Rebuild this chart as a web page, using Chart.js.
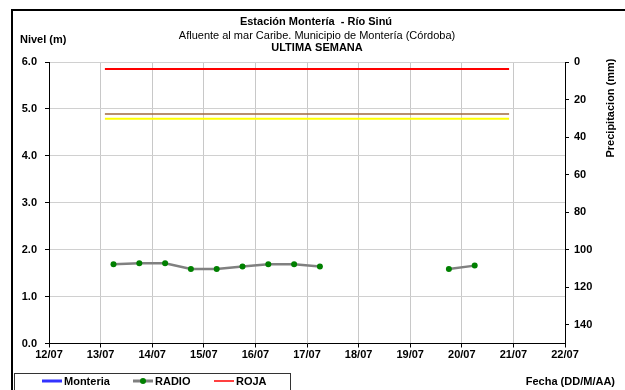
<!DOCTYPE html>
<html>
<head>
<meta charset="utf-8">
<script src="https://cdn.jsdelivr.net/npm/chart.js@4.4.1/dist/chart.umd.min.js"></script>
<style>
  html, body { margin: 0; padding: 0; background: #fff; }
</style>
</head>
<body>
<canvas id="chart" width="625" height="390"></canvas>
<script>
// --- data ---
const dayTicks = ['12/07', '13/07', '14/07', '15/07', '16/07', '17/07', '18/07', '19/07', '20/07', '21/07', '22/07'];

const radioTimes = ['13/07 06:00', '13/07 18:00', '14/07 06:00', '14/07 18:00', '15/07 06:00', '15/07 18:00',
  '16/07 06:00', '16/07 18:00', '17/07 06:00', '17/07 18:00', '18/07 06:00', '18/07 18:00', '19/07 06:00',
  '19/07 18:00', '20/07 06:00'];
const radioLevels = [1.69, 1.71, 1.71, 1.59, 1.59, 1.64, 1.69, 1.69, 1.64, null, null, null, null, 1.59, 1.66];

const monteriaTimes = [];
const monteriaLevels = [];

const alertTimes = ['13/07 02:00', '20/07 22:00'];
const rojaLevel = 5.85;
const naranjaLevel = 4.89;
const amarillaLevel = 4.79;

const titleLines = ['Estación Montería  - Río Sinú', 'Afluente al mar Caribe. Municipio de Montería (Córdoba)', 'ULTIMA SEMANA'];

const FONT = '"Liberation Sans", Arial, sans-serif';

// "DD/MM HH:MM" -> day number on the x scale
function toDay(t) {
  const [d, h] = t.split(' ');
  const [hh, mm] = h.split(':').map(Number);
  return parseInt(d.split('/')[0], 10) + (hh + mm / 60) / 24;
}
const pts = (times, vals) => times.map((t, i) => ({ x: toDay(t), y: vals[i] }));
const flat = (level) => alertTimes.map(t => ({ x: toDay(t), y: level }));

// header texts, frame and legend box
const decor = {
  id: 'decor',
  afterDraw(chart) {
    const c = chart.ctx;
    c.save();
    c.strokeStyle = '#000';
    c.lineWidth = 2;
    c.strokeRect(12, 10, 700, 500);

    c.fillStyle = '#000';
    c.textBaseline = 'middle';
    c.textAlign = 'center';
    c.font = 'bold 11px ' + FONT;
    c.fillText(titleLines[0], 316, 22);
    c.font = '11px ' + FONT;
    c.fillText(titleLines[1], 317, 36);
    c.font = 'bold 11px ' + FONT;
    c.fillText(titleLines[2], 317, 48);

    c.textAlign = 'left';
    c.fillText('Nivel (m)', 20, 40);
    c.textAlign = 'right';
    c.fillText('Fecha (DD/M/AA)', 615, 382);

    // legend
    c.lineWidth = 1;
    c.strokeStyle = '#333';
    c.strokeRect(14.5, 373.5, 276, 30);
    const xs = [42, 133, 214];
    const items = chart.data.datasets.filter(ds => !ds.hideInLegend);
    items.forEach((ds, i) => {
      const x = xs[i], y = 381;
      c.strokeStyle = ds.legendColor || ds.borderColor;
      c.lineWidth = ds.legendWidth || 2;
      c.beginPath(); c.moveTo(x, y); c.lineTo(x + 20, y); c.stroke();
      if (ds.pointRadius > 0) {
        c.fillStyle = ds.pointBackgroundColor;
        c.beginPath(); c.arc(x + 10, y, 3, 0, Math.PI * 2); c.fill();
      }
      c.fillStyle = '#000';
      c.textAlign = 'left';
      c.fillText(ds.label, x + 22, y + 1);
    });

    c.translate(611, 108);
    c.rotate(-Math.PI / 2);
    c.textAlign = 'center';
    c.fillText('Precipitacion (mm)', 0, 0);
    c.restore();
  }
};

new Chart(document.getElementById('chart'), {
  type: 'line',
  data: {
    datasets: [
      {
        label: 'Monteria',
        data: pts(monteriaTimes, monteriaLevels),
        borderColor: '#3333ff',
        legendWidth: 3,
        borderWidth: 2,
        pointRadius: 0,
      },
      {
        label: 'RADIO',
        data: pts(radioTimes, radioLevels),
        borderColor: '#808080',
        legendWidth: 3,
        borderWidth: 2.5,
        pointRadius: 3,
        pointBorderWidth: 0,
        pointBackgroundColor: '#008000',
        spanGaps: false,
      },
      {
        label: 'ROJA',
        data: flat(rojaLevel),
        borderColor: '#ff0000',
        legendWidth: 1.5,
        borderWidth: 2,
        pointRadius: 0,
      },
      {
        label: 'NARANJA',
        hideInLegend: true,
        data: flat(naranjaLevel),
        borderColor: '#a0683c',
        borderWidth: 1.5,
        pointRadius: 0,
      },
      {
        label: 'AMARILLA',
        hideInLegend: true,
        data: flat(amarillaLevel),
        borderColor: '#ffff00',
        borderWidth: 2,
        pointRadius: 0,
      },
    ],
  },
  options: {
    responsive: false,
    animation: false,
    layout: { padding: { top: 62, left: 0, right: 0, bottom: 0 } },
    plugins: {
      legend: { display: false },
      tooltip: { enabled: false },
    },
    scales: {
      x: {
        type: 'linear',
        min: 12,
        max: 22,
        afterFit: s => { s.height = 46.5; },
        ticks: {
          stepSize: 1,
          autoSkip: false,
          maxRotation: 0,
          padding: 1,
          color: '#000',
          font: { family: FONT, size: 11, weight: 'bold' },
          callback: v => dayTicks[Math.round(v) - 12],
        },
        grid: { color: '#c8c8c8', tickColor: '#000', tickLength: 4 },
        border: { color: '#000' },
      },
      y: {
        position: 'left',
        min: 0,
        max: 6,
        afterFit: s => { s.width = 49; },
        ticks: {
          stepSize: 1,
          padding: 8,
          color: '#000',
          font: { family: FONT, size: 11, weight: 'bold' },
          callback: v => v.toFixed(1),
        },
        grid: { color: '#d0d0d0', tickColor: '#000', tickLength: 4 },
        border: { color: '#000' },
      },
      y2: {
        position: 'right',
        reverse: true,
        min: 0,
        max: 150,
        afterFit: s => { s.width = 60; },
        afterBuildTicks: s => { s.ticks = s.ticks.filter(t => t.value % 20 === 0); },
        ticks: {
          stepSize: 20,
          padding: 5,
          color: '#000',
          font: { family: FONT, size: 11, weight: 'bold' },
        },
        grid: { drawOnChartArea: false, tickColor: '#000', tickLength: 4 },
        border: { color: '#000' },
      },
    },
  },
  plugins: [decor],
});
</script>
</body>
</html>
